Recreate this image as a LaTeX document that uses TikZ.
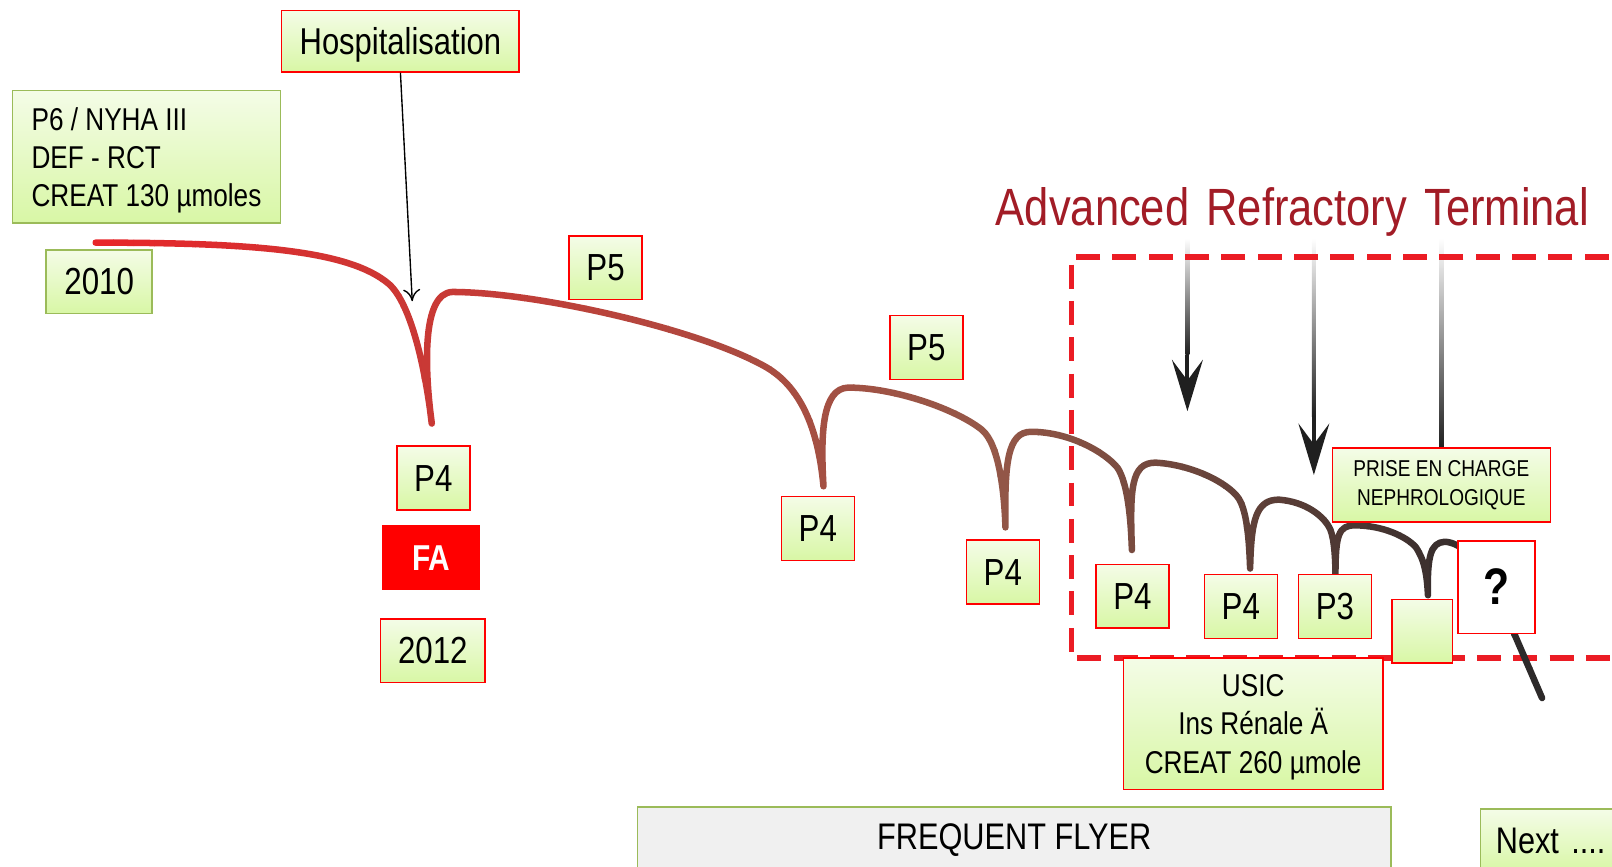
\documentclass[tikz,border=0pt]{standalone}
\usepackage{fontspec}
\setmainfont{Liberation Sans}[FakeStretch=0.83]
\usetikzlibrary{arrows.meta, calc}

\definecolor{vclair}{RGB}{244,252,231}
\definecolor{vfonce}{RGB}{216,247,165}
\definecolor{vbord}{RGB}{155,187,89}
\definecolor{rbord}{RGB}{255,0,0}
\definecolor{rougecourbe}{RGB}{232,38,42}
\definecolor{bruncourbe}{RGB}{150,88,72}
\definecolor{griscourbe}{RGB}{45,42,42}
\definecolor{rougetitre}{RGB}{162,28,38}
\definecolor{rougecadre}{RGB}{235,28,36}
\definecolor{grisfond}{RGB}{240,240,240}

% trajet de la courbe (en pixels, y vers le bas)
\newcommand{\trajet}{%
  (93,236) .. controls (250,236) and (340,244) .. (378,276)
  .. controls (400,295) and (414,360) .. (420,412)
  .. controls (413,360) and (410,285) .. (440,284)
  .. controls (520,284) and (680,320) .. (745,357)
  .. controls (785,380) and (797,430) .. (801,473)
  .. controls (798,420) and (800,378) .. (825,377)
  .. controls (870,377) and (930,398) .. (955,418)
  .. controls (972,432) and (977,480) .. (978,513)
  .. controls (977,450) and (980,420) .. (1003,420)
  .. controls (1040,420) and (1075,440) .. (1087,455)
  .. controls (1097,470) and (1100,505) .. (1101,535)
  .. controls (1099,475) and (1100,450) .. (1124,450)
  .. controls (1160,452) and (1195,470) .. (1205,485)
  .. controls (1213,498) and (1215,525) .. (1216,553)
  .. controls (1217,505) and (1222,486) .. (1244,486)
  .. controls (1270,488) and (1288,502) .. (1294,515)
  .. controls (1298,525) and (1299,545) .. (1299,560)
  .. controls (1299,520) and (1302,511) .. (1318,511)
  .. controls (1345,511) and (1368,522) .. (1377,532)
  .. controls (1386,545) and (1388,560) .. (1389,579)
  .. controls (1388,540) and (1392,528) .. (1405,527)
  .. controls (1420,527) and (1440,545) .. (1455,575)
  -- (1500,679)}

\begin{document}
\begin{tikzpicture}[x=0.3pt, y=-0.3pt, >=Stealth,
    boite/.style={draw=vbord, line width=0.45pt, top color=vclair, bottom color=vfonce, inner sep=0pt, align=center},
    boiterouge/.style={boite, draw=rbord},
    taille/.style={minimum width=21.3pt, minimum height=18.6pt, font=\fontsize{11}{13}\selectfont},
    courbe/.style={line width=1.9pt, line cap=round, line join=round},
    cadre/.style={rougecadre, line width=1.5pt, dash pattern=on 7pt off 3.6pt},
    pointe/.style={black!88, line width=1.2pt, -{Stealth[length=15pt, width=9pt, inset=6pt]}}]

    \useasboundingbox (0,0) rectangle (1568,843);

    % 1. fleches grises vers le bas
    \coordinate (aHaut) at (1155,232);
    \coordinate (aMilieu) at (1155,345);
    \coordinate (aBout) at (1155,400);
    \coordinate (bHaut) at (1278,232);
    \coordinate (bMilieu) at (1278,405);
    \coordinate (bBout) at (1278,462);
    \coordinate (cHaut) at (1402,232);
    \coordinate (cBas) at (1402,436);
    \shade[top color=white, bottom color=black!88] ($(aHaut)+(-2,0)$) rectangle ($(aMilieu)+(2,0)$);
    \draw[pointe] (aMilieu) -- (aBout);
    \shade[top color=white, bottom color=black!88] ($(bHaut)+(-2,0)$) rectangle ($(bMilieu)+(2,0)$);
    \draw[pointe] (bMilieu) -- (bBout);
    \shade[top color=white, bottom color=black!88] ($(cHaut)+(-2,0)$) rectangle ($(cBas)+(2,0)$);

    % 2. cadre en pointilles
    \draw[cadre] (1600,250) -- (1042,250) -- (1042,640) -- (1600,640);

    % 3. courbe, du rouge au gris, par bandes
    \foreach \i in {0,...,42}{
        \pgfmathsetmacro{\xa}{90+20*\i}
        \pgfmathtruncatemacro{\p}{(940-\xa)/8.5}
        \begin{scope}
            \clip (\xa,0) rectangle (\xa+20.5,843);
            \draw[courbe, rougecourbe!\p!bruncourbe] \trajet;
        \end{scope}
    }
    \foreach \i in {0,...,29}{
        \pgfmathsetmacro{\xa}{950+20*\i}
        \pgfmathtruncatemacro{\p}{max(0,(1450-\xa)/5)}
        \begin{scope}
            \clip (\xa,0) rectangle (\xa+20.5,843);
            \draw[courbe, bruncourbe!\p!griscourbe] \trajet;
        \end{scope}
    }

    % 4. boites
    \node[boite, minimum width=78.3pt, minimum height=38.7pt, align=left, text depth=0pt,
        font=\fontsize{9.2}{11.1}\selectfont] (info) at (142.5,152.5) {P6 / NYHA III\\DEF - RCT\\CREAT 130 µmoles};
    \node[boite, taille, minimum width=30.9pt] (an2010) at (96.5,274) {2010};
    \node[boiterouge, minimum width=69.3pt, minimum height=18pt, text depth=0pt,
        font=\fontsize{10.9}{13}\selectfont] (hospit) at (389.5,40) {Hospitalisation};
    \node[boiterouge, taille] (p5a) at (589,260.5) {P5};
    \node[boiterouge, taille] (p4a) at (421.5,465) {P4};
    \node[fill=red, minimum width=28.5pt, minimum height=18.9pt, inner sep=0pt, text=white,
        font=\bfseries\fontsize{10.5}{12}\selectfont] (fa) at (419.5,542.5) {FA};
    \node[boiterouge, taille, minimum width=30.6pt] (an2012) at (421,633) {2012};
    \node[boiterouge, taille] (p5b) at (901,338) {P5};
    \node[boiterouge, taille] (p4b) at (795.5,514) {P4};
    \node[boiterouge, taille] (p4c) at (975.5,556.5) {P4};
    \node[boiterouge, taille] (p4d) at (1101.5,580) {P4};
    \node[boiterouge, taille] (p4e) at (1207,590) {P4};
    \node[boiterouge, taille] (p3) at (1298.5,590) {P3};
    \node[boiterouge, minimum width=17.7pt, minimum height=18.6pt] (vide) at (1383.5,614) {};
    \node[draw=rbord, line width=0.45pt, fill=white, minimum width=22.5pt, minimum height=27pt, inner sep=0pt,
        font=\bfseries\fontsize{15}{18}\selectfont] (question) at (1455.5,571) {?};
    \node[boiterouge, minimum width=63.6pt, minimum height=21.6pt, font=\fontsize{6.7}{8.3}\selectfont] (prise) at (1402,472) {PRISE EN CHARGE\\NEPHROLOGIQUE};
    \node[boiterouge, minimum width=75.6pt, minimum height=38.4pt, text depth=0pt,
        font=\fontsize{9.2}{11.2}\selectfont] (usic) at (1219,704) {USIC\\Ins Rénale Ä\\CREAT 260 µmole};
    \node[draw=vbord, line width=0.45pt, fill=grisfond, minimum width=219.9pt, minimum height=19.2pt, inner sep=0pt,
        font=\fontsize{10.8}{13}\selectfont] (frequent) at (986.5,817) {FREQUENT FLYER};
    \node[boite, minimum width=48pt, minimum height=18.6pt, text width=39pt, align=left,
        font=\fontsize{10.8}{13}\selectfont] (suite) at (1520,818) {Next ....};

    % 5. titre
    \node[anchor=base west, inner sep=0pt, text=rougetitre, font=\fontsize{15.3}{18}\selectfont] (titre) at (968,219) {Advanced\hspace{5pt}Refractory\hspace{5pt}Terminal};

    % 6. fleche de l'hospitalisation
    \coordinate (hfleche) at (401,293);
    \draw[line width=0.4pt, -{To[length=3.5pt, width=5pt]}] (hospit.south) -- (hfleche);

\end{tikzpicture}
\end{document}
